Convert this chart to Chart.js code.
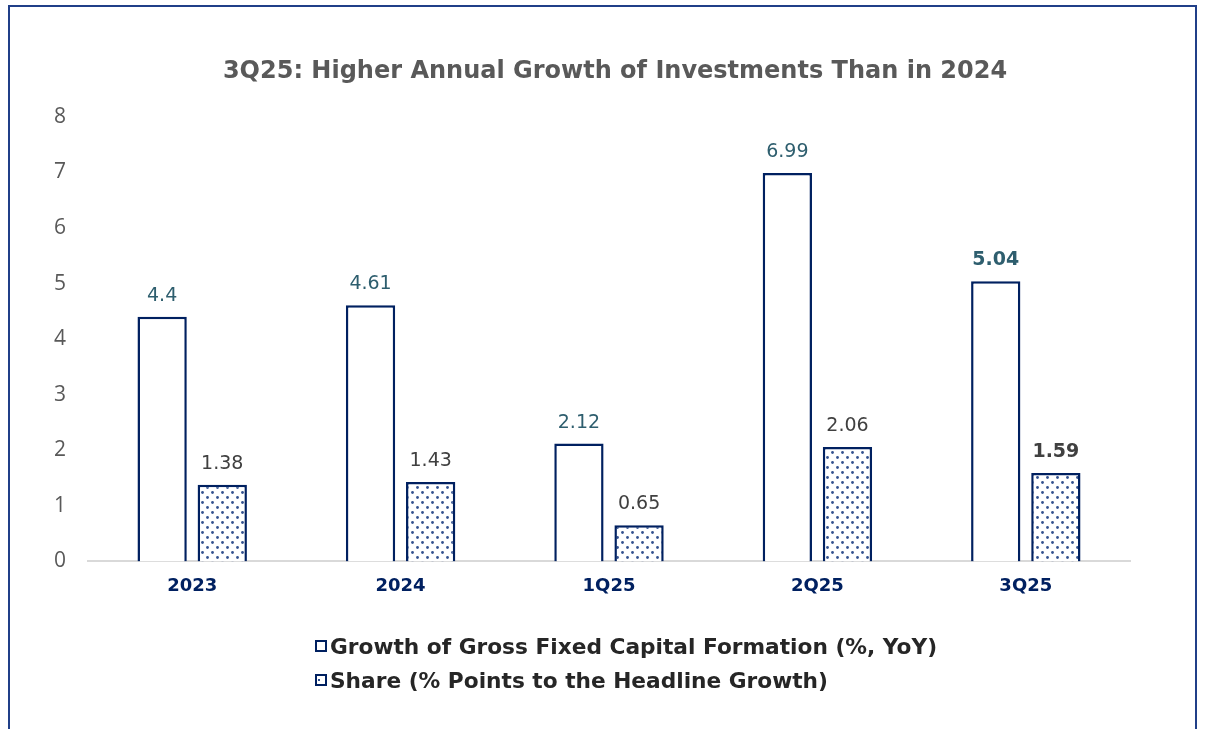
<!DOCTYPE html>
<html>
<head>
<meta charset="utf-8">
<script src="https://cdn.jsdelivr.net/npm/chart.js@4/dist/chart.umd.min.js"></script>
<style>
  html,body{margin:0;padding:0;background:#fff;overflow:hidden;}
  #wrap{position:relative;width:1205px;height:729px;}
  #frame{position:absolute;left:8px;top:5px;width:1189px;height:760px;border:2px solid #203f88;box-sizing:border-box;pointer-events:none;}
  canvas{position:absolute;left:0;top:0;}
  #legend{position:absolute;left:315px;top:629px;font-family:"DejaVu Sans",Verdana,sans-serif;font-weight:bold;font-size:21.7px;color:#262626;}
  .li{display:flex;align-items:center;height:34px;white-space:nowrap;}
  .sw{width:8px;height:8px;border:2.5px solid #002060;margin-right:3px;background:#fff;position:relative;}
  .sw.dot::after{content:"";position:absolute;left:1px;top:3px;width:2px;height:2px;background:#2b4c8c;}
</style>
</head>
<body>
<div id="wrap">
  <canvas id="c" width="1205" height="729"></canvas>
  <div id="frame"></div>
  <div id="legend"></div>
</div>
<script>
const categories = ["2023", "2024", "1Q25", "2Q25", "3Q25"];
const gfcfGrowth = [4.4, 4.61, 2.12, 6.99, 5.04];
const shareGrowth = [1.38, 1.43, 0.65, 2.06, 1.59];
const yTicks = [0, 1, 2, 3, 4, 5, 6, 7, 8];
const seriesNames = ["Growth of Gross Fixed Capital Formation (%, YoY)", "Share (% Points to the Headline Growth)"];
const titleText = "3Q25: Higher Annual Growth of Investments Than in 2024";

function makePattern(){
  const c = document.createElement('canvas');
  c.width = 10; c.height = 10;
  const x = c.getContext('2d');
  x.fillStyle = '#ffffff'; x.fillRect(0,0,10,10);
  x.fillStyle = '#34528f';
  [[2.5,2.5],[7.5,7.5]].forEach(([a,b])=>{ x.beginPath(); x.arc(a,b,1.4,0,Math.PI*2); x.fill(); });
  const ctx = document.getElementById('c').getContext('2d');
  return ctx.createPattern(c,'repeat');
}

const labelPlugin = {
  id: 'valueLabels',
  afterDatasetsDraw(chart){
    const ctx = chart.ctx;
    const colors = ['#2e5e6e', '#404040'];
    chart.data.datasets.forEach((ds, i) => {
      const meta = chart.getDatasetMeta(i);
      meta.data.forEach((bar, j) => {
        const last = j === ds.data.length - 1;
        ctx.save();
        ctx.font = (last ? 'bold ' : '') + '19px "DejaVu Sans", Verdana, sans-serif';
        ctx.fillStyle = colors[i];
        ctx.textAlign = 'center';
        ctx.textBaseline = 'middle';
        ctx.fillText(String(ds.data[j]), bar.x, bar.y - 21);
        ctx.restore();
      });
    });
  }
};

const chart = new Chart(document.getElementById('c'), {
  type: 'bar',
  data: {
    labels: categories,
    datasets: [
      { label: seriesNames[0], data: gfcfGrowth, backgroundColor: '#ffffff', borderColor: '#002060', borderWidth: 2.5,
        categoryPercentage: 0.577, barPercentage: 0.82 },
      { label: seriesNames[1], data: shareGrowth, backgroundColor: makePattern(), borderColor: '#002060', borderWidth: 2.5,
        categoryPercentage: 0.577, barPercentage: 0.82 }
    ]
  },
  options: {
    responsive: false,
    animation: false,
    devicePixelRatio: 1,
    layout: { padding: { left: 25, right: 0, top: 0, bottom: 118 } },
    plugins: {
      legend: { display: false },
      tooltip: { enabled: false },
      title: {
        display: true, text: titleText, color: '#595959',
        font: { family: '"DejaVu Sans", Verdana, sans-serif', size: 24, weight: 'bold' },
        padding: { top: 57, bottom: 31 }
      }
    },
    scales: {
      x: {
        grid: { display: false, drawTicks: false },
        border: { display: true, color: '#d9d9d9', width: 2 },
        ticks: { color: '#002060', padding: 14, font: { family: '"DejaVu Sans", Verdana, sans-serif', size: 18, weight: 'bold' } }
      },
      y: {
        min: 0, max: 8,
        afterBuildTicks(scale){ scale.ticks = yTicks.map(v => ({ value: v })); },
        afterFit(scale){ scale.width = 63; },
        grid: { display: false, drawTicks: false },
        border: { display: false },
        ticks: { color: '#595959', padding: 22, font: { family: '"Open Sans", sans-serif', size: 21 } }
      },
      yPad: {
        position: 'right', display: true, min: 0, max: 8,
        afterFit(scale){ scale.width = 75; },
        grid: { display: false, drawTicks: false },
        border: { display: false },
        ticks: { display: false }
      }
    }
  },
  plugins: [labelPlugin]
});

const lg = document.getElementById('legend');
seriesNames.forEach((n, i) => {
  const d = document.createElement('div'); d.className = 'li';
  const s = document.createElement('span'); s.className = 'sw' + (i === 1 ? ' dot' : '');
  const t = document.createElement('span'); t.textContent = n;
  d.appendChild(s); d.appendChild(t); lg.appendChild(d);
});
</script>
</body>
</html>
